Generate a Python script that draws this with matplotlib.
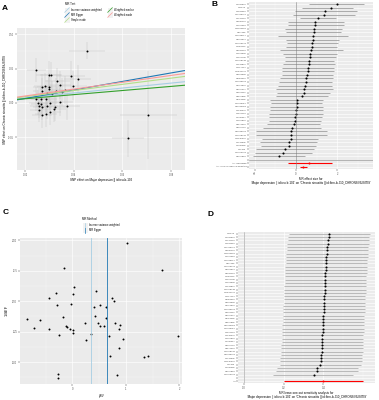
import numpy as np
import matplotlib.pyplot as plt
from matplotlib.lines import Line2D
from matplotlib.patches import Rectangle
from matplotlib.ticker import AutoMinorLocator

plt.rcParams['font.family'] = ['Liberation Sans', 'DejaVu Sans']

# ---------------- data ----------------
# A: scatter of SNP effects
a_x = [0.0455, 0.0247, 0.0297, 0.0307, 0.0388, 0.0416, 0.0333, 0.0345, 0.0396, 0.0271,
       0.0282, 0.0299, 0.0297, 0.0365, 0.0327, 0.0352, 0.0271, 0.0311, 0.0290, 0.0245,
       0.0264, 0.0285, 0.0255, 0.0264, 0.0259, 0.0271, 0.0289, 0.0345, 0.0303, 0.0322,
       0.0372, 0.0259, 0.0318, 0.0303, 0.0285, 0.0269, 0.0706, 0.0623]
a_y = [0.0762, 0.0477, 0.0413, 0.0404, 0.0394, 0.0350, 0.0316, 0.0258, 0.0252, 0.0238,
       0.0243, 0.0229, 0.0200, 0.0185, 0.0175, 0.0160, 0.0180, 0.0131, 0.0141, 0.0058,
       0.0063, 0.0054, 0.0004, -0.0019, -0.0044, -0.0063, -0.0044, 0.0015, 0.0000, -0.0063,
       -0.0044, -0.0102, -0.0083, -0.0127, -0.0160, -0.0180, -0.0175, -0.0515]
a_xse = [0.0074, 0.0040, 0.0050, 0.0045, 0.0060, 0.0055, 0.0050, 0.0045, 0.0060, 0.0040,
         0.0045, 0.0050, 0.0045, 0.0055, 0.0050, 0.0050, 0.0040, 0.0045, 0.0045, 0.0040,
         0.0040, 0.0045, 0.0040, 0.0040, 0.0040, 0.0040, 0.0045, 0.0050, 0.0045, 0.0050,
         0.0055, 0.0040, 0.0050, 0.0045, 0.0045, 0.0040, 0.0117, 0.0065]
a_yse = [0.0120, 0.0180, 0.0200, 0.0190, 0.0210, 0.0200, 0.0190, 0.0200, 0.0210, 0.0180,
         0.0190, 0.0200, 0.0190, 0.0200, 0.0190, 0.0200, 0.0180, 0.0190, 0.0190, 0.0180,
         0.0180, 0.0190, 0.0180, 0.0180, 0.0180, 0.0180, 0.0190, 0.0200, 0.0190, 0.0200,
         0.0200, 0.0180, 0.0190, 0.0190, 0.0190, 0.0180, 0.0640, 0.0270]
a_methods = ['Inverse variance weighted', 'MR Egger', 'Simple mode', 'Weighted median', 'Weighted mode']
a_int = [0.0, -0.006, 0.0, 0.0, 0.0]
a_slope = [0.36, 0.62, 0.45, 0.30, 0.50]
a_colors = ['#a6cee3', '#1f78b4', '#b2df8a', '#33a02c', '#fb9a99']

# B: single SNP forest plot (top to bottom)
b_snps = ['rs1432639', 'rs12552', 'rs4543289', 'rs10149470', 'rs7044150', 'rs9530139',
          'rs1021363', 'rs11663393', 'rs301806', 'rs12666117', 'rs8063603', 'rs10959913',
          'rs1354115', 'rs2232423', 'rs7198928', 'rs4904738', 'rs12958048', 'rs1933802',
          'rs7117514', 'rs10514301', 'rs2568958', 'rs2389016', 'rs12129573', 'rs6476606',
          'rs8025231', 'rs9592461', 'rs3807865', 'rs5758265', 'rs10929355', 'rs61990288',
          'rs4936276', 'rs1806153', 'rs4730387', 'rs7200826', 'rs2876520', 'rs2125716',
          'rs62099069', 'rs12658032', 'rs11135349', 'rs1343605', 'rs7430565', 'rs40465',
          'rs10950398', 'rs2005864']
b_est = [1.98, 1.71, 1.41, 1.35, 1.06, 0.94, 0.91, 0.89, 0.88, 0.85, 0.83, 0.80, 0.76, 0.73,
         0.70, 0.68, 0.65, 0.63, 0.60, 0.57, 0.54, 0.50, 0.47, 0.44, 0.41, 0.37, 0.28, 0.05,
         0.03, 0.03, 0.02, 0.00, -0.03, -0.07, -0.11, -0.20, -0.23, -0.23, -0.26, -0.34,
         -0.36, -0.52, -0.62, -0.81]
b_lo = [0.63, 0.28, -0.05, -0.13, 0.20, -0.37, -0.37, -0.54, -0.46, -0.86, -0.46, -0.42,
        -0.46, -0.78, -0.62, -0.54, -0.54, -0.62, -0.70, -0.70, -0.70, -0.78, -0.81, -0.86,
        -0.98, -0.91, -0.98, -1.27, -1.20, -1.24, -1.27, -1.30, -1.33, -1.33, -1.40, -1.59,
        -1.92, -1.92, -1.63, -1.76, -1.72, -1.92, -2.00, -2.08]
b_hi = [3.32, 2.75, 2.96, 2.88, 1.93, 2.34, 2.31, 2.23, 2.18, 2.55, 2.11, 2.03, 1.98, 2.28,
        1.98, 1.92, 1.85, 1.89, 1.85, 1.85, 1.79, 1.79, 1.74, 1.74, 1.79, 1.66, 1.56, 1.33,
        1.28, 1.33, 1.30, 1.30, 1.27, 1.20, 1.17, 1.20, 1.53, 1.53, 1.09, 1.01, 0.98, 0.88,
        0.76, 0.44]
b_all_labels = ['All - MR Egger', 'All - Inverse variance weighted']
b_all_est = [0.65, 0.36]
b_all_lo = [-0.37, 0.20]
b_all_hi = [1.74, 0.52]

# C: funnel plot
c_b = [1.02, -0.15, 1.68, 0.03, 0.45, -0.31, 0.006, -0.44, 0.75, 0.78, -0.29, -0.025,
       0.525, 0.40, 0.63, -0.175, 0.425, 0.625, -0.856, -0.61, 0.23, 0.48, 0.80, 0.59,
       0.52, 0.89, -0.125, -0.106, -0.725, -0.44, 0.875, -0.044, 0.006, 0.006, -0.25,
       0.34, 0.69, 1.97, 0.256, 0.94, 0.875, 0.71, 1.41, 1.34, 0.83, -0.27, -0.27]
c_inv_se = [1.978, 1.773, 1.760, 1.620, 1.588, 1.564, 1.561, 1.528, 1.525, 1.506, 1.467,
            1.475, 1.467, 1.453, 1.453, 1.367, 1.381, 1.362, 1.356, 1.345, 1.323, 1.320,
            1.320, 1.298, 1.293, 1.301, 1.293, 1.287, 1.282, 1.271, 1.268, 1.276, 1.260,
            1.240, 1.226, 1.232, 1.218, 1.213, 1.185, 1.190, 1.113, 1.047, 1.052, 1.039,
            0.898, 0.900, 0.873]
c_methods = ['Inverse variance weighted', 'MR Egger']
c_est = [0.34, 0.64]
c_colors = ['#a6cee3', '#1f78b4']

# D: leave-one-out (top to bottom)
d_snps = ['rs12552', 'rs1432639', 'rs7044150', 'rs4543289', 'rs10149470', 'rs9530139',
          'rs11663393', 'rs1021363', 'rs12666117', 'rs301806', 'rs10959913', 'rs8063603',
          'rs2232423', 'rs1354115', 'rs4904738', 'rs7198928', 'rs1933802', 'rs12958048',
          'rs10514301', 'rs7117514', 'rs2389016', 'rs2568958', 'rs6476606', 'rs12129573',
          'rs9592461', 'rs8025231', 'rs5758265', 'rs3807865', 'rs61990288', 'rs10929355',
          'rs1806153', 'rs4936276', 'rs7200826', 'rs4730387', 'rs2125716', 'rs2876520',
          'rs12658032', 'rs62099069', 'rs1343605', 'rs11135349', 'rs40465', 'rs7430565',
          'rs2005864', 'rs10950398']
d_est = [0.430, 0.427, 0.424, 0.422, 0.420, 0.418, 0.417, 0.415, 0.415, 0.413, 0.412,
         0.412, 0.410, 0.410, 0.408, 0.408, 0.407, 0.407, 0.407, 0.405, 0.405, 0.403,
         0.403, 0.402, 0.402, 0.400, 0.400, 0.398, 0.398, 0.397, 0.397, 0.395, 0.395,
         0.393, 0.393, 0.392, 0.392, 0.390, 0.388, 0.387, 0.385, 0.368, 0.366, 0.351]
d_lo = [0.227, 0.224, 0.224, 0.218, 0.215, 0.215, 0.213, 0.212, 0.212, 0.210, 0.208,
        0.208, 0.207, 0.207, 0.205, 0.205, 0.203, 0.203, 0.202, 0.202, 0.200, 0.200,
        0.198, 0.198, 0.197, 0.197, 0.195, 0.195, 0.193, 0.193, 0.192, 0.192, 0.190,
        0.190, 0.188, 0.188, 0.187, 0.185, 0.183, 0.182, 0.180, 0.165, 0.161, 0.148]
d_hi = [0.635, 0.632, 0.630, 0.629, 0.627, 0.625, 0.624, 0.624, 0.622, 0.620, 0.620,
        0.618, 0.618, 0.617, 0.617, 0.615, 0.615, 0.613, 0.613, 0.612, 0.612, 0.610,
        0.610, 0.608, 0.608, 0.607, 0.607, 0.605, 0.605, 0.603, 0.603, 0.602, 0.602,
        0.600, 0.600, 0.598, 0.598, 0.597, 0.595, 0.593, 0.592, 0.576, 0.573, 0.551]
d_all = [0.400, 0.202, 0.600]

exposure = 'Major depression || id:ieu-b-102'
outcome = 'Chronic sinusitis || id:finn-b-J10_CHRONSINUSITIS'

# ---------------- layout helpers ----------------
W, H = 379, 400
TICK = 1.8
LAB = 2.2
GREY_BG = '#EBEBEB'


def rect(l, t, r, b):
    return [l / W, 1 - b / H, (r - l) / W, (b - t) / H]


def style(ax, minor_x=True, minor_y=True):
    ax.set_facecolor(GREY_BG)
    for s in ax.spines.values():
        s.set_visible(False)
    ax.set_axisbelow(True)
    ax.grid(True, which='major', color='white', lw=0.45)
    if minor_x:
        ax.xaxis.set_minor_locator(AutoMinorLocator(2))
    if minor_y:
        ax.yaxis.set_minor_locator(AutoMinorLocator(2))
    ax.grid(True, which='minor', color='white', lw=0.2)
    ax.tick_params(which='major', length=1.2, width=0.3, color='#333333',
                   labelsize=TICK, labelcolor='#4D4D4D', pad=0.8)
    ax.tick_params(which='minor', length=0)


fig = plt.figure(figsize=(W / 100, H / 100), dpi=100)


def ftext(x, y, s, **kw):
    fig.text(x / W, 1 - y / H, s, **kw)


def key(x, y, color, kind):
    fig.add_artist(Rectangle((x / W - 2.5 / W, 1 - (y + 2.5) / H), 5 / W, 5 / H,
                             transform=fig.transFigure, fc='#F2F2F2', ec='none'))
    if kind == 'diag':
        xs, ys = [x - 2.3, x + 2.3], [y + 2.3, y - 2.3]
    else:
        xs, ys = [x, x], [y + 2.5, y - 2.5]
    fig.add_artist(Line2D([v / W for v in xs], [1 - v / H for v in ys],
                          transform=fig.transFigure, color=color, lw=0.5))


# ---------------- A ----------------
axA = fig.add_axes(rect(17, 28, 185, 170))
style(axA)
axA.errorbar(a_x, a_y, xerr=a_xse, yerr=a_yse, fmt='none', ecolor='#BDBDBD',
             elinewidth=0.3, capsize=0)
axA.plot(a_x, a_y, 'o', color='black', ms=1.4, mew=0)
axA.set_xlim(0.0167, 0.0857)
axA.set_ylim(-0.0977, 0.109)
xx = np.array([0.0167, 0.0857])
for i in range(len(a_methods)):
    axA.plot(xx, a_int[i] + a_slope[i] * xx, color=a_colors[i], lw=0.8)
axA.set_xticks([0.02, 0.04, 0.06, 0.08])
axA.set_xticklabels(['0.02', '0.04', '0.06', '0.08'])
axA.set_yticks([-0.05, 0.0, 0.05, 0.10])
axA.set_yticklabels(['-0.05', '0.00', '0.05', '0.10'])
axA.set_xlabel('SNP effect on ' + exposure, fontsize=LAB, labelpad=1)
axA.set_ylabel('SNP effect on ' + outcome, fontsize=LAB, labelpad=1)
ftext(2, 8, 'A', fontsize=6, fontweight='bold', va='center')
ftext(65, 4, 'MR Test', fontsize=2.0, va='center')
leg_pos = [(67, 10), (67, 15), (67, 20), (110, 10), (110, 15)]
for i, (kx, ky) in enumerate(leg_pos):
    key(kx, ky, a_colors[i], 'diag')
    ftext(kx + 4, ky, a_methods[i], fontsize=1.9, va='center')

# ---------------- B ----------------
axB = fig.add_axes(rect(249, 2, 373, 169))
style(axB, minor_y=False)
n = len(b_snps)
ypos = np.arange(n + 3, 3, -1)  # SNP rows at top
axB.hlines(ypos, b_lo, b_hi, color='#8C8C8C', lw=0.5)
axB.plot(b_est, ypos, 'o', color='black', ms=1.5, mew=0)
all_y = [2, 1]
axB.hlines(all_y, b_all_lo, b_all_hi, color='red', lw=0.8)
axB.plot(b_all_est, all_y, 'o', color='red', ms=1.5, mew=0)
axB.axvline(0, color='#7F7F7F', lw=0.4)
axB.axhline(3, color='#7F7F7F', lw=0.4)
axB.set_yticks(list(ypos) + [3] + all_y)
axB.set_yticklabels(b_snps + [''] + b_all_labels, fontsize=1.6)
axB.set_ylim(0.4, n + 3.6)
axB.set_xlim(-2.28, 3.74)
axB.set_xticks([-2, 0, 2])
axB.set_xlabel("MR effect size for\n'" + exposure + "' on '" + outcome + "'",
               fontsize=LAB, labelpad=1, linespacing=1.1)
ftext(212, 5, 'B', fontsize=6, fontweight='bold', va='center')

# ---------------- C ----------------
axC = fig.add_axes(rect(20, 238, 182, 384))
style(axC)
axC.plot(c_b, c_inv_se, 'o', color='black', ms=1.4, mew=0)
for i in range(len(c_methods)):
    axC.axvline(c_est[i], color=c_colors[i], lw=0.6)
axC.set_xlim(-0.98, 2.05)
axC.set_ylim(0.82, 2.02)
axC.set_xticks([0, 1, 2])
axC.set_yticks([1.0, 1.25, 1.5, 1.75, 2.0])
axC.set_yticklabels(['1.00', '1.25', '1.50', '1.75', '2.00'])
axC.set_xlabel(r'$\beta_{IV}$', fontsize=LAB + 0.4, labelpad=1)
axC.set_ylabel(r'$1/SE_{IV}$', fontsize=LAB + 0.4, labelpad=1)
ftext(3, 213, 'C', fontsize=6, fontweight='bold', va='center')
ftext(82, 219, 'MR Method', fontsize=2.0, va='center')
for i, ky in enumerate([225, 230]):
    key(85, ky, c_colors[i], 'vert')
    ftext(89, ky, c_methods[i], fontsize=1.9, va='center')

# ---------------- D ----------------
axD = fig.add_axes(rect(238, 232, 375, 383))
style(axD, minor_y=False)
n = len(d_snps)
ypos = np.arange(n + 2, 2, -1)
axD.hlines(ypos, d_lo, d_hi, color='#A0A0A0', lw=0.5)
axD.plot(d_est, ypos, 'o', color='black', ms=1.5, mew=0)
axD.hlines([1], [d_all[1]], [d_all[2]], color='red', lw=0.8)
axD.plot([d_all[0]], [1], 'o', color='red', ms=1.5, mew=0)
axD.axvline(0, color='#9A9A9A', lw=0.4)
axD.set_yticks(list(ypos) + [2, 1])
axD.set_yticklabels(d_snps + ['', 'All'], fontsize=1.6)
axD.set_ylim(0.4, n + 2.6)
axD.set_xlim(-0.029, 0.66)
axD.set_xticks([0.0, 0.2, 0.4])
axD.set_xticklabels(['0.0', '0.2', '0.4'])
axD.set_xlabel("MR leave-one-out sensitivity analysis for\n'" + exposure + "' on '" + outcome + "'",
               fontsize=LAB, labelpad=1, linespacing=1.1)
ftext(208, 215, 'D', fontsize=6, fontweight='bold', va='center')

fig.savefig('out.png', dpi=100, facecolor='white')
